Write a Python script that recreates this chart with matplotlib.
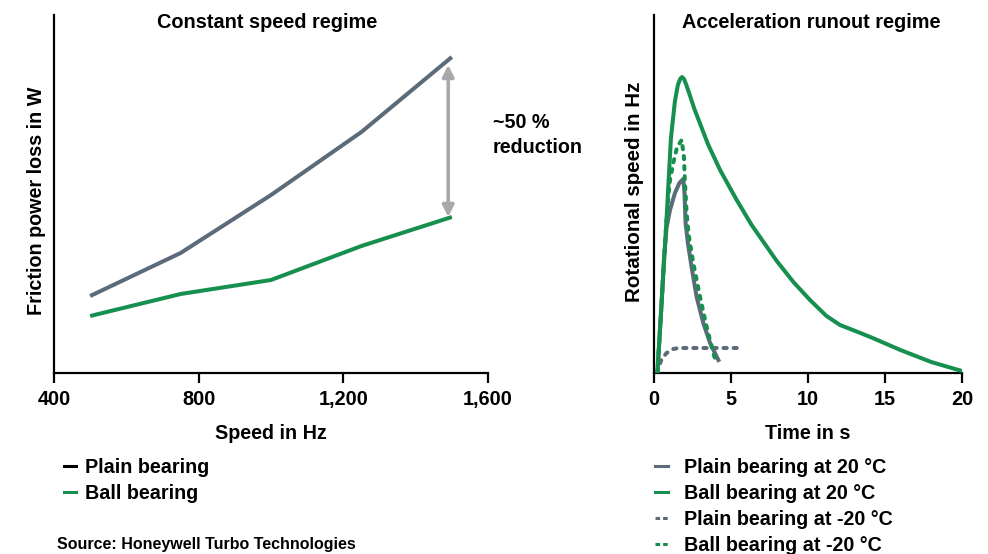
import matplotlib
matplotlib.use("Agg")
import matplotlib.pyplot as plt
from matplotlib.lines import Line2D

plt.rcParams['font.family'] = ['Liberation Sans', 'DejaVu Sans']
plt.rcParams['font.weight'] = 'bold'

GRAY = '#5c6b7a'
GREEN = '#17904f'
ARROW = '#a9a9ab'

# ---- Left chart data (constant speed regime), arbitrary W units ----
speed_hz = [500, 750, 1000, 1250, 1500]
plain_loss = [77, 120, 178, 241, 316]
ball_loss = [57, 79, 93, 127, 156]
left_xticks = [400, 800, 1200, 1600]
left_xticklabels = ['400', '800', '1,200', '1,600']

# ---- Right chart data (acceleration runout regime), arbitrary Hz units ----
ball20_t = [0.22, 0.5, 0.8, 1.1, 1.36, 1.55, 1.7, 1.82, 1.95, 2.1, 2.3, 2.6, 3.0, 3.5, 4.29, 5.37,
            6.34, 7.97, 9.05, 10.13, 11.2, 12.08, 13.4, 14.2, 16.0, 18.0, 20.0]
ball20_v = [0, 72, 150, 235, 272, 288, 294, 296, 294, 288, 279, 265, 249, 229, 203, 173,
            148, 112, 91, 73, 57, 48, 40, 35, 23, 11, 2]

plain20_t = [0.22, 0.5, 0.65, 0.82, 1.04, 1.36, 1.65, 1.9, 1.98, 2.05, 2.2, 2.45, 2.77, 3.2, 3.64, 4.18]
plain20_v = [0, 72, 115, 146, 163, 180, 190, 194, 180, 150, 130, 105, 76, 50, 30, 13]

ballm20_t = [0.22, 0.5, 0.8, 0.93, 1.04, 1.25, 1.5, 1.8, 1.95, 2.0, 2.12, 2.25, 2.55, 2.99, 3.42, 3.85, 3.95]
ballm20_v = [0, 72, 150, 176, 193, 210, 226, 233, 215, 193, 160, 138, 110, 76, 46, 20, 15]

plainm20_t = [0.22, 0.35, 0.5, 0.82, 1.25, 1.6, 5.48]
plainm20_v = [0, 8, 14, 20, 24, 25, 25]

right_xticks = [0, 5, 10, 15, 20]

fig = plt.figure(figsize=(9.88, 5.54), dpi=100)

FS_TICK = 14.3
FS_LAB = 14.2
FS_TITLE = 14.3
FS_LEG = 14.2
LW = 2.9
DASH = (0, (0.8, 1.7))
LEG_DASH = (0, (1.5, 1.0))

def style_axes(ax):
    for s in ['top', 'right']:
        ax.spines[s].set_visible(False)
    for s in ['left', 'bottom']:
        ax.spines[s].set_linewidth(1.6)
        ax.spines[s].set_color('black')
    ax.set_yticks([])
    ax.tick_params(axis='x', direction='out', length=7, width=1.6, labelsize=FS_TICK, pad=5)
    for lab in ax.get_xticklabels():
        lab.set_fontweight('bold')

# Left axes
axL = fig.add_axes([54/988, 1-373/554, (488-54)/988, (373-15)/554])
axL.plot(speed_hz, plain_loss, color=GRAY, lw=LW, solid_capstyle='butt')
axL.plot(speed_hz, ball_loss, color=GREEN, lw=LW, solid_capstyle='butt')
axL.set_xlim(400, 1600)
axL.set_ylim(0, 358)
axL.set_xticks(left_xticks)
axL.set_xticklabels(left_xticklabels)
style_axes(axL)
axL.set_xlabel('Speed in Hz', fontsize=FS_LAB, fontweight='bold', labelpad=11)
axL.set_ylabel('Friction power loss in W', fontsize=FS_LAB, fontweight='bold')
axL.yaxis.set_label_coords(-8/434, 0.48)
axL.text(0.49, (373-22)/358, 'Constant speed regime', transform=axL.transAxes,
         fontsize=FS_TITLE, fontweight='bold', ha='center', va='center')
axL.annotate('', xy=(1490, 308), xytext=(1490, 156),
             arrowprops=dict(arrowstyle='<|-|>', color=ARROW, lw=2.6,
                             mutation_scale=17, shrinkA=0, shrinkB=0))
axL.text(1614, 238, '~50 %\nreduction', fontsize=FS_LEG, fontweight='bold',
         ha='left', va='center', linespacing=1.38, clip_on=False)

# Right axes
axR = fig.add_axes([654/988, 1-373/554, (962-654)/988, (373-15)/554])
axR.plot(plain20_t, plain20_v, color=GRAY, lw=LW, zorder=2)
axR.plot(plainm20_t, plainm20_v, color=GRAY, lw=LW, linestyle=DASH, dash_capstyle='round', zorder=3)
axR.plot(ballm20_t, ballm20_v, color=GREEN, lw=LW, linestyle=DASH, dash_capstyle='round', zorder=4)
axR.plot(ball20_t, ball20_v, color=GREEN, lw=LW, zorder=5)
axR.set_xlim(0, 20)
axR.set_ylim(0, 358)
axR.set_xticks(right_xticks)
style_axes(axR)
axR.set_xlabel('Time in s', fontsize=FS_LAB, fontweight='bold', labelpad=11)
axR.set_ylabel('Rotational speed in Hz', fontsize=FS_LAB + 0.6, fontweight='bold')
axR.yaxis.set_label_coords(-10/308, 0.505)
axR.text(0.51, (373-22)/358, 'Acceleration runout regime', transform=axR.transAxes,
         fontsize=FS_TITLE, fontweight='bold', ha='center', va='center')

# Legends
left_handles = [Line2D([], [], color='black', lw=2.2), Line2D([], [], color=GREEN, lw=2.2)]
left_labels = ['Plain bearing', 'Ball bearing']
fig.legend(left_handles, left_labels, loc='upper left', bbox_to_anchor=(64/988, 1-458/554),
           frameon=False, prop={'size': FS_LEG, 'weight': 'bold'},
           handlelength=0.62, handletextpad=0.45, labelspacing=0.36, borderpad=0, borderaxespad=0)

right_handles = [Line2D([], [], color=GRAY, lw=2.2), Line2D([], [], color=GREEN, lw=2.2),
                 Line2D([], [], color=GRAY, lw=2.2, linestyle=LEG_DASH),
                 Line2D([], [], color=GREEN, lw=2.2, linestyle=LEG_DASH)]
right_labels = ['Plain bearing at 20 °C', 'Ball bearing at 20 °C',
                'Plain bearing at -20 °C', 'Ball bearing at -20 °C']
fig.legend(right_handles, right_labels, loc='upper left', bbox_to_anchor=(655/988, 1-458/554),
           frameon=False, prop={'size': FS_LEG, 'weight': 'bold'},
           handlelength=0.65, handletextpad=0.8, labelspacing=0.36, borderpad=0, borderaxespad=0)

fig.text(57/988, 1-545/554, 'Source: Honeywell Turbo Technologies', fontsize=11.5,
         fontweight='bold', ha='left', va='center')

fig.savefig('out.png', dpi=100)
